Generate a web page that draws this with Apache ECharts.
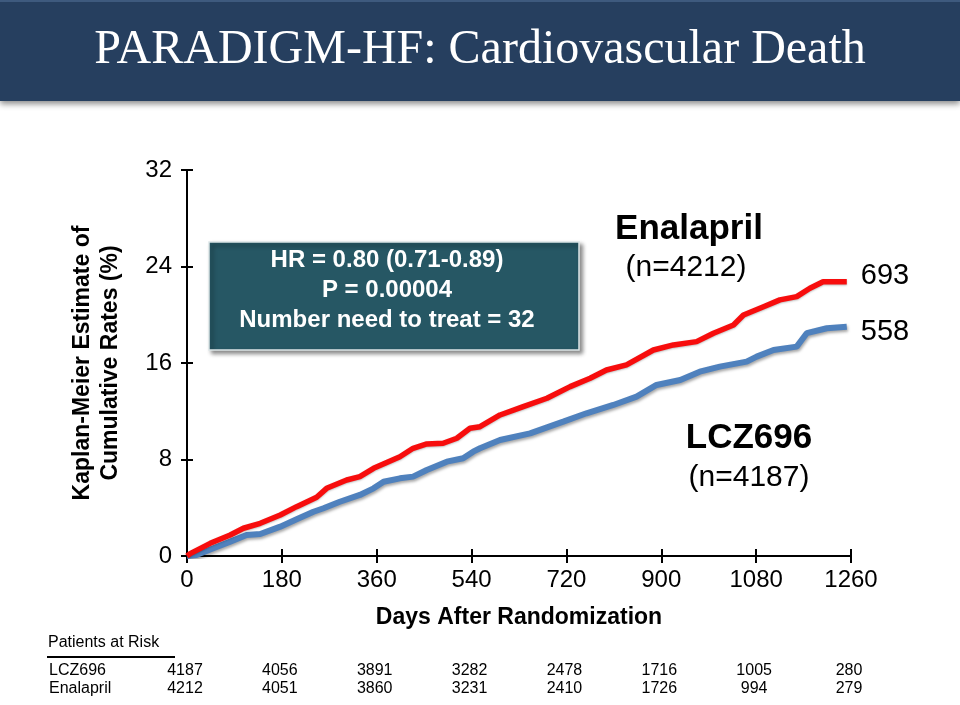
<!DOCTYPE html>
<html>
<head>
<meta charset="utf-8">
<script src="https://cdn.jsdelivr.net/npm/echarts@6/dist/echarts.min.js"></script>
<style>
html,body{margin:0;padding:0;background:#fff;}
#chart{width:960px;height:705px;}
</style>
</head>
<body>
<div id="chart"></div>
<script>
// ---- data ----
const enalaprilDays = [0, 6, 44, 82, 107, 139, 177, 208, 246, 265, 303, 328, 354, 404, 429, 455, 486, 512, 537, 556, 594, 638, 683, 727, 765, 796, 834, 885, 923, 967, 999, 1037, 1056, 1094, 1125, 1157, 1182, 1207, 1252];
const enalaprilRate = [0, 0.2, 1.05, 1.74, 2.3, 2.71, 3.4, 4.09, 4.87, 5.61, 6.3, 6.58, 7.27, 8.23, 8.93, 9.29, 9.35, 9.76, 10.59, 10.72, 11.69, 12.38, 13.08, 14.04, 14.73, 15.42, 15.84, 17.08, 17.5, 17.77, 18.47, 19.15, 19.98, 20.67, 21.23, 21.5, 22.2, 22.74, 22.74];
const lczDays = [0, 18, 50, 82, 113, 139, 177, 208, 240, 259, 290, 328, 354, 373, 404, 429, 455, 493, 524, 543, 556, 594, 651, 714, 758, 809, 853, 891, 936, 973, 1011, 1062, 1081, 1113, 1157, 1176, 1214, 1252];
const lczRate = [0, 0.08, 0.64, 1.19, 1.74, 1.82, 2.43, 3.04, 3.67, 3.96, 4.5, 5.06, 5.61, 6.16, 6.44, 6.58, 7.13, 7.82, 8.1, 8.65, 8.93, 9.62, 10.17, 11.14, 11.83, 12.52, 13.21, 14.18, 14.59, 15.28, 15.7, 16.11, 16.53, 17.08, 17.36, 18.47, 18.88, 19.01];
const eventCounts = { Enalapril: 693, LCZ696: 558 };
const riskDays = [0, 180, 360, 540, 720, 900, 1080, 1260];
const riskLCZ = [4187, 4056, 3891, 3282, 2478, 1716, 1005, 280];
const riskEnalapril = [4212, 4051, 3860, 3231, 2410, 1726, 994, 279];
const yTicks = [0, 8, 16, 24, 32];

const titleText = 'PARADIGM-HF: Cardiovascular Death';
const statsLines = ['HR = 0.80 (0.71-0.89)', 'P = 0.00004', 'Number need to treat = 32'];

const SANS = '"Liberation Sans", Arial, sans-serif';
const SERIF = '"Liberation Serif", "Times New Roman", serif';

const chart = echarts.init(document.getElementById('chart'), null, {renderer: 'canvas'});

const toPairs = (xs, ys) => xs.map((x, i) => [x, ys[i]]);

const gridBox = {left: 187, right: 109, top: 170, bottom: 149};

const option = {
  backgroundColor: '#ffffff',
  animation: false,
  grid: [
    Object.assign({containLabel: false}, gridBox),
    Object.assign({containLabel: false}, gridBox)
  ],
  xAxis: [{
    type: 'value', gridIndex: 0, min: 0, max: 1260, interval: 180,
    axisLine: {show: true, lineStyle: {color: '#000', width: 2}},
    axisTick: {show: true, inside: false, length: 7, lineStyle: {color: '#000', width: 2}},
    axisLabel: {color: '#000', fontSize: 24, fontFamily: SANS, margin: 12, formatter: v => String(v)},
    splitLine: {show: false},
    name: 'Days After Randomization', nameLocation: 'middle', nameGap: 50,
    nameTextStyle: {color: '#000', fontSize: 23, fontWeight: 'bold', fontFamily: SANS}
  }, {
    type: 'value', gridIndex: 1, min: 0, max: 1260, interval: 180,
    axisLine: {show: false},
    axisTick: {show: true, inside: true, length: 7, lineStyle: {color: '#000', width: 2}},
    axisLabel: {show: false}, splitLine: {show: false}
  }],
  yAxis: [{
    type: 'value', gridIndex: 0, min: 0, max: 32, interval: 8,
    axisLine: {show: true, lineStyle: {color: '#000', width: 2}},
    axisTick: {show: true, inside: false, length: 6, lineStyle: {color: '#000', width: 2}},
    axisLabel: {color: '#000', fontSize: 24, fontFamily: SANS, margin: 15, formatter: v => String(v)},
    splitLine: {show: false},
    name: 'Kaplan-Meier Estimate of\nCumulative Rates (%)', nameLocation: 'middle', nameGap: 62,
    nameRotate: 90,
    nameTextStyle: {color: '#000', fontSize: 23, fontWeight: 'bold', fontFamily: SANS, lineHeight: 28, align: 'center'}
  }, {
    type: 'value', gridIndex: 1, min: 0, max: 32, interval: 8,
    axisLine: {show: false},
    axisTick: {show: true, inside: true, length: 6, lineStyle: {color: '#000', width: 2}},
    axisLabel: {show: false}, splitLine: {show: false}
  }],
  series: [{
    name: 'LCZ696', type: 'line', xAxisIndex: 0, yAxisIndex: 0,
    data: toPairs(lczDays, lczRate), showSymbol: false, symbol: 'none',
    lineStyle: {color: '#4f81bd', width: 6, shadowColor: 'rgba(0,0,0,0.35)', shadowBlur: 3, shadowOffsetY: 2, shadowOffsetX: 1},
    endLabel: {show: true, formatter: () => String(eventCounts.LCZ696), color: '#000', fontSize: 29, fontFamily: SANS, distance: 14, offset: [0, 5]},
    z: 3
  }, {
    name: 'Enalapril', type: 'line', xAxisIndex: 0, yAxisIndex: 0,
    data: toPairs(enalaprilDays, enalaprilRate), showSymbol: false, symbol: 'none',
    lineStyle: {color: '#f70d0d', width: 5.5, shadowColor: 'rgba(0,0,0,0.25)', shadowBlur: 2, shadowOffsetY: 1},
    endLabel: {show: true, formatter: () => String(eventCounts.Enalapril), color: '#000', fontSize: 29, fontFamily: SANS, distance: 14, offset: [0, -6]},
    z: 4
  }]
};

chart.setOption(option);

// Build annotations; patients-at-risk columns placed through the x-axis scale
const graphics = [];
// title bar
graphics.push({
  type: 'rect', z: 100,
  shape: {x: 0, y: 0, width: 960, height: 101},
  style: {fill: '#263f5f', shadowBlur: 6, shadowColor: 'rgba(0,0,0,0.45)', shadowOffsetY: 3}
});
graphics.push({
  type: 'rect', z: 101,
  shape: {x: 0, y: 0, width: 960, height: 2},
  style: {fill: '#3e5a7e'}
});
graphics.push({
  type: 'text', z: 102,
  style: {text: titleText, x: 480, y: 50, align: 'center', verticalAlign: 'middle',
    fill: '#ffffff', font: '48px ' + SERIF}
});
// stats box
graphics.push({
  type: 'rect', z: 100,
  shape: {x: 209, y: 242, width: 370, height: 108},
  style: {fill: '#265764', stroke: '#dde6e8', lineWidth: 1.5,
    shadowBlur: 4, shadowColor: 'rgba(0,0,0,0.45)', shadowOffsetX: 3, shadowOffsetY: 3}
});
graphics.push({
  type: 'text', z: 101,
  style: {text: statsLines.join('\n'), x: 387, y: 290, align: 'center', verticalAlign: 'middle',
    fill: '#ffffff', font: 'bold 24px ' + SANS, lineHeight: 30}
});
// group labels
graphics.push({type: 'text', z: 50, style: {text: 'Enalapril', x: 689, y: 229, align: 'center', verticalAlign: 'middle', fill: '#000', font: 'bold 35px ' + SANS}});
graphics.push({type: 'text', z: 50, style: {text: '(n=4212)', x: 686, y: 268, align: 'center', verticalAlign: 'middle', fill: '#000', font: '30px ' + SANS}});
graphics.push({type: 'text', z: 50, style: {text: 'LCZ696', x: 749, y: 438, align: 'center', verticalAlign: 'middle', fill: '#000', font: 'bold 35px ' + SANS}});
graphics.push({type: 'text', z: 50, style: {text: '(n=4187)', x: 749, y: 478, align: 'center', verticalAlign: 'middle', fill: '#000', font: '30px ' + SANS}});

// patients at risk table
graphics.push({type: 'text', z: 50, style: {text: 'Patients at Risk', x: 48, y: 643, align: 'left', verticalAlign: 'middle', fill: '#000', font: '16px ' + SANS}});
graphics.push({type: 'line', z: 50, shape: {x1: 47, y1: 657, x2: 175, y2: 657}, style: {stroke: '#000', lineWidth: 2}});
graphics.push({type: 'text', z: 50, style: {text: 'LCZ696', x: 49, y: 671, align: 'left', verticalAlign: 'middle', fill: '#000', font: '16px ' + SANS}});
graphics.push({type: 'text', z: 50, style: {text: 'Enalapril', x: 49, y: 689, align: 'left', verticalAlign: 'middle', fill: '#000', font: '16px ' + SANS}});
riskDays.forEach((d, i) => {
  const px = chart.convertToPixel({xAxisIndex: 0}, d) - 2;
  graphics.push({type: 'text', z: 50, style: {text: String(riskLCZ[i]), x: px, y: 671, align: 'center', verticalAlign: 'middle', fill: '#000', font: '16px ' + SANS}});
  graphics.push({type: 'text', z: 50, style: {text: String(riskEnalapril[i]), x: px, y: 689, align: 'center', verticalAlign: 'middle', fill: '#000', font: '16px ' + SANS}});
});

chart.setOption({graphic: {elements: graphics}});
</script>
</body>
</html>
